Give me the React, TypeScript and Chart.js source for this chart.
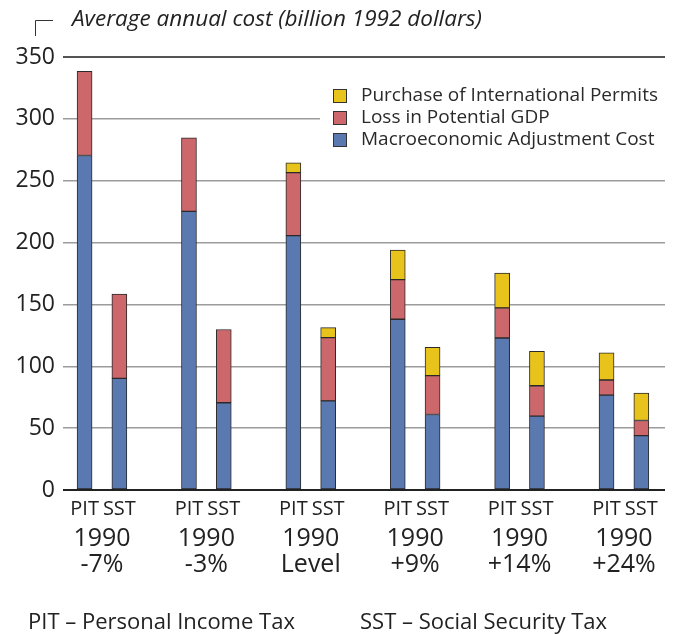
import React, { useEffect, useRef } from "react";
import { Chart, registerables } from "chart.js";

Chart.register(...registerables);

const barLabels = ["PIT", "SST"];
const groupTop = ["1990", "1990", "1990", "1990", "1990", "1990"];
const groupBottom = ["-7%", "-3%", "Level", "+9%", "+14%", "+24%"];

// interleaved: PIT, SST for each group
const macroCost = [270.4, 90.2, 225.2, 70.5, 205.6, 72.1, 138, 61, 122.9, 59.7, 76.7, 44];
const gdpLoss = [68.1, 68.1, 59.4, 59.2, 51, 51.1, 32, 31.4, 24.3, 24.6, 12.2, 12.2];
const permits = [null, null, null, null, 7.8, 8.1, 24, 23, 28.1, 27.8, 21.9, 22.2];

const yTicks = [0, 50, 100, 150, 200, 250, 300, 350];

const titleText = "Average annual cost (billion 1992 dollars)";
const footerLeft = "PIT – Personal Income Tax";
const footerRight = "SST – Social Security Tax";

const FONT = "'Open Sans', Lato, sans-serif";

function xPos(i: number) {
  const g = Math.floor(i / 2);
  return g * 3 + (i % 2);
}

export default function App() {
  const ref = useRef<HTMLCanvasElement | null>(null);

  useEffect(() => {
    document.body.style.margin = "0";
    const canvas = ref.current;
    if (!canvas) return;

    const mk = (vals: (number | null)[]) =>
      vals.map((v, i) => ({ x: xPos(i), y: v }));

    const overlay = {
      id: "overlay",
      beforeDatasetsDraw(chart: any) {
        const ctx = chart.ctx;
        ctx.save();
        // legend box
        ctx.fillStyle = "#ffffff";
        ctx.fillRect(320, 80, 350, 74);
        const ds = chart.data.datasets;
        const order = [2, 1, 0];
        ctx.font = `19px ${FONT}`;
        ctx.textBaseline = "middle";
        ctx.textAlign = "left";
        order.forEach((di, k) => {
          const y = 96 + k * 22;
          ctx.fillStyle = ds[di].backgroundColor;
          ctx.fillRect(333, y - 7, 14, 14);
          ctx.strokeStyle = "#333";
          ctx.lineWidth = 1;
          ctx.strokeRect(333.5, y - 6.5, 13, 13);
          ctx.fillStyle = "#2a2a2a";
          ctx.fillText(ds[di].label, 361, y);
        });
        ctx.restore();
      },
      afterDraw(chart: any) {
        const ctx = chart.ctx;
        const xs = chart.scales.x;
        ctx.save();
        ctx.fillStyle = "#222";
        ctx.textAlign = "center";
        ctx.textBaseline = "alphabetic";
        for (let g = 0; g < groupBottom.length; g++) {
          ctx.font = `20px ${FONT}`;
          barLabels.forEach((lb, k) => {
            ctx.fillText(lb, xs.getPixelForValue(g * 3 + k), 515);
          });
          const cx = xs.getPixelForValue(g * 3 + 0.5);
          ctx.font = `25px ${FONT}`;
          ctx.fillText(groupTop[g], cx, 546);
          ctx.fillText(groupBottom[g], cx, 572);
        }
        // title
        ctx.textAlign = "left";
        ctx.font = `italic 22.5px ${FONT}`;
        ctx.fillText(titleText, 72, 26);
        ctx.strokeStyle = "#333";
        ctx.lineWidth = 1;
        ctx.beginPath();
        ctx.moveTo(35.5, 36);
        ctx.lineTo(35.5, 20.5);
        ctx.lineTo(53, 20.5);
        ctx.stroke();
        // footer
        ctx.font = `22px ${FONT}`;
        ctx.fillText(footerLeft, 28, 629);
        ctx.fillText(footerRight, 360, 629);
        ctx.restore();
      },
    };

    const common = {
      borderColor: "#2a2a2a",
      borderWidth: 1,
      barThickness: 15,
      borderSkipped: false,
    };

    const chart = new Chart(canvas, {
      type: "bar",
      data: {
        datasets: [
          { label: "Macroeconomic Adjustment Cost", data: mk(macroCost), backgroundColor: "#5b79b1", ...common },
          { label: "Loss in Potential GDP", data: mk(gdpLoss), backgroundColor: "#cc676b", ...common },
          { label: "Purchase of International Permits", data: mk(permits), backgroundColor: "#e8c31c", ...common },
        ],
      } as any,
      options: {
        animation: false,
        responsive: false,
        maintainAspectRatio: false,
        layout: { padding: { left: 0, right: 10, top: 57, bottom: 144 } },
        plugins: { legend: { display: false }, tooltip: { enabled: false }, title: { display: false } },
        scales: {
          x: {
            type: "linear",
            stacked: true,
            display: false,
            offset: false,
            min: -0.62,
            max: 16.68,
          },
          y: {
            stacked: true,
            min: 0,
            max: 350,
            afterBuildTicks(axis: any) {
              axis.ticks = yTicks.map((v) => ({ value: v }));
            },
            afterFit(axis: any) {
              axis.width = 63;
            },
            border: { display: false },
            grid: {
              drawTicks: false,
              color: (c: any) => (c.tick.value === 0 ? "#222" : c.tick.value === 350 ? "#555" : "#9c9c9c"),
              lineWidth: (c: any) => (c.tick.value === 0 || c.tick.value === 350 ? 2 : 1.5),
            },
            ticks: {
              padding: 8,
              color: "#222",
              font: { family: FONT, size: 23 },
            },
          },
        },
      } as any,
      plugins: [overlay],
    });
    return () => chart.destroy();
  }, []);

  return (
    <div style={{ width: 675, height: 634 }}>
      <canvas ref={ref} width={675} height={634} style={{ display: "block" }} />
    </div>
  );
}
